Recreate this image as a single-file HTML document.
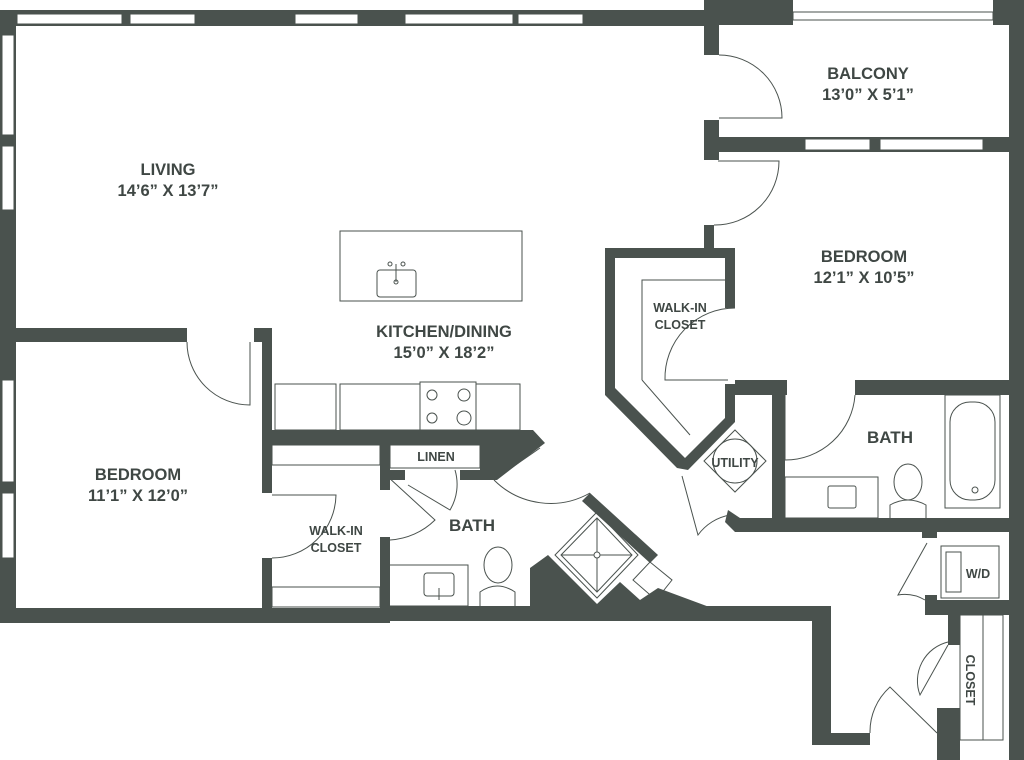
<!DOCTYPE html>
<html><head><meta charset="utf-8"><style>
html,body{margin:0;padding:0;background:#fff}
svg{display:block}
text{font-family:"Liberation Sans",sans-serif;font-weight:bold;fill:#3f4744;text-anchor:middle}
</style></head><body>
<svg width="1024" height="760" viewBox="0 0 1024 760" xmlns="http://www.w3.org/2000/svg">
<g fill="#4a524e" stroke="none">
 <rect x="0" y="10" width="710" height="16"/>
 <rect x="704" y="0" width="89" height="25"/>
 <rect x="993" y="0" width="31" height="25"/>
 <rect x="1009" y="0" width="15" height="760"/>
 <rect x="0" y="10" width="16" height="613"/>
 <rect x="704" y="25" width="15" height="30"/>
 <rect x="704" y="120" width="15" height="40"/>
 <rect x="704" y="137" width="305" height="15"/>
 <rect x="704" y="225" width="10" height="25"/>
 <rect x="16" y="328" width="171" height="14"/>
 <rect x="254" y="328" width="18" height="14"/>
 <rect x="262" y="328" width="10" height="165"/>
 <rect x="262" y="558" width="10" height="60"/>
 <rect x="0" y="608" width="390" height="15"/>
 <rect x="385" y="606" width="446" height="15"/>
 <rect x="812" y="606" width="19" height="139"/>
 <rect x="812" y="733" width="58" height="12"/>
 <polygon points="272,430 533,430 545,443 497,480 460,480 460,470 480,470 480,445 272,445"/>
 <rect x="380" y="445" width="10" height="45"/>
 <rect x="380" y="470" width="25" height="10"/>
 <rect x="380" y="537" width="10" height="75"/>
 <polygon points="530,608 530,568 548,555 597,604 620,582 640,600 658,588 712,608"/>
 <polygon points="590,493 658,555 650,563 582,501"/>
 <polygon points="605,248 735,248 735,308 725,308 725,258 615,258 615,388 685,458 725,418 725,384 735,384 735,422 688,470 677,468 605,395"/>
 <rect x="735" y="380" width="52" height="15"/>
 <rect x="855" y="380" width="154" height="15"/>
 <rect x="772" y="380" width="13" height="140"/>
 <polygon points="728,510 740,518 1009,518 1009,532 735,532 725,522"/>
 <rect x="922" y="532" width="15" height="6"/>
 <rect x="925" y="600" width="84" height="15"/>
 <rect x="925" y="595" width="12" height="20"/>
 <rect x="948" y="615" width="12" height="30"/>
 <rect x="937" y="708" width="23" height="52"/>
 <rect x="948" y="740" width="12" height="20"/>
</g>
<g fill="#fff" stroke="#4a524e" stroke-width="1">
 <rect x="17" y="14" width="105" height="10"/>
 <rect x="130" y="14" width="65" height="10"/>
 <rect x="295" y="14" width="63" height="10"/>
 <rect x="405" y="14" width="108" height="10"/>
 <rect x="518" y="14" width="65" height="10"/>
 <rect x="793" y="12" width="200" height="8"/>
 <rect x="2" y="35" width="12" height="100"/>
 <rect x="2" y="146" width="12" height="64"/>
 <rect x="2" y="380" width="12" height="102"/>
 <rect x="2" y="493" width="12" height="65"/>
 <rect x="805" y="139" width="65" height="11"/>
 <rect x="880" y="139" width="103" height="11"/>
</g>
<g fill="none" stroke="#4a524e" stroke-width="1">
 <rect x="340" y="231" width="182" height="70"/>
 <rect x="377" y="270" width="39" height="27" rx="3"/>
 <line x1="396" y1="264" x2="396" y2="282"/>
 <circle cx="390" cy="264" r="2"/><circle cx="403" cy="264" r="2"/><circle cx="396" cy="282" r="2"/>
 <rect x="275" y="384" width="61" height="46"/>
 <rect x="340" y="384" width="80" height="46"/>
 <rect x="420" y="382" width="56" height="48"/>
 <rect x="476" y="384" width="44" height="46"/>
 <circle cx="432" cy="395" r="5"/><circle cx="464" cy="395" r="6"/>
 <circle cx="432" cy="418" r="5"/><circle cx="464" cy="418" r="7"/>
 <path d="M719,55 A63,63 0 0 1 782,118 L719,118"/>
 <path d="M718,161 L779,161 A64,64 0 0 1 714,225"/>
 <path d="M187,342 A63,63 0 0 0 250,405 L250,342"/>
 <path d="M272,495 L336,495 A64,64 0 0 1 272,558"/>
 <path d="M390,540 A70,70 0 0 0 435,520 L387,476"/>
 <path d="M455,470 A50,50 0 0 1 450,510 L408,485"/>
 <path d="M494,480 L540,448"/>
 <path d="M494,480 A80,80 0 0 0 590,493"/>
 <path d="M735,308 A70,70 0 0 0 665,380 L728,380"/>
 <path d="M785,395 L785,460 A70,70 0 0 0 855,395"/>
 <path d="M682,476 L698,535 A50,50 0 0 1 730,515"/>
 <path d="M927,543 L898,595 A40,40 0 0 1 925,600"/>
 <path d="M948,645 L920,695 A40,40 0 0 1 948,642"/>
 <path d="M870,733 A60,60 0 0 1 890,687 L937,733"/>
 <path d="M642,380 L642,280 L725,280"/>
 <path d="M642,380 L690,435"/>
 <rect x="272" y="445" width="108" height="20"/>
 <rect x="272" y="587" width="108" height="20"/>
 <rect x="390" y="445" width="90" height="23"/>
 <rect x="388" y="565" width="80" height="41"/>
 <rect x="424" y="573" width="30" height="23" rx="3"/>
 <line x1="439" y1="588" x2="439" y2="600"/>
 <ellipse cx="498" cy="565" rx="14" ry="18"/>
 <path d="M480,606 L480,592 Q497,580 515,592 L515,606"/>
 <polygon points="597,512 638,555 597,598 555,555"/>
 <polygon points="597,518 632,555 597,592 561,555"/>
 <line x1="597" y1="518" x2="597" y2="592"/><line x1="561" y1="555" x2="632" y2="555"/>
 <circle cx="597" cy="555" r="3" fill="#fff"/>
 <polygon points="633,580 650,562 672,580 656,600"/>
 <polygon points="735,430 766,461 735,492 704,461"/>
 <circle cx="735" cy="461" r="22"/>
 <rect x="945" y="395" width="55" height="113"/>
 <rect x="950" y="402" width="45" height="98" rx="20"/>
 <circle cx="975" cy="490" r="3"/>
 <rect x="785" y="477" width="93" height="41"/>
 <rect x="828" y="486" width="28" height="22" rx="2"/>
 <ellipse cx="908" cy="482" rx="14" ry="18"/>
 <path d="M890,518 L890,505 Q908,495 926,505 L926,518"/>
 <rect x="941" y="546" width="58" height="52"/>
 <rect x="946" y="552" width="15" height="40"/>
 <line x1="983" y1="615" x2="983" y2="740"/>
 <rect x="960" y="615" width="43" height="125"/>
</g>
<g font-size="16.5">
<text x="168" y="175">LIVING</text>
<text x="168" y="196">14’6” X 13’7”</text>
<text x="868" y="79">BALCONY</text>
<text x="868" y="100">13’0” X 5’1”</text>
<text x="864" y="262">BEDROOM</text>
<text x="864" y="283">12’1” X 10’5”</text>
<text x="444" y="337">KITCHEN/DINING</text>
<text x="444" y="358">15’0” X 18’2”</text>
<text x="138" y="480">BEDROOM</text>
<text x="138" y="501">11’1” X 12’0”</text>
</g>
<g font-size="12.5">
<text x="680" y="312">WALK-IN</text>
<text x="680" y="329">CLOSET</text>
<text x="336" y="535">WALK-IN</text>
<text x="336" y="552">CLOSET</text>
<text x="436" y="461">LINEN</text>
<text x="735" y="467">UTILITY</text>
<text x="978" y="578">W/D</text>
<text x="0" y="0" transform="translate(966,680) rotate(90)">CLOSET</text>
</g>
<text x="472" y="531" font-size="17">BATH</text>
<text x="890" y="443" font-size="17">BATH</text>
</svg>
</body></html>
